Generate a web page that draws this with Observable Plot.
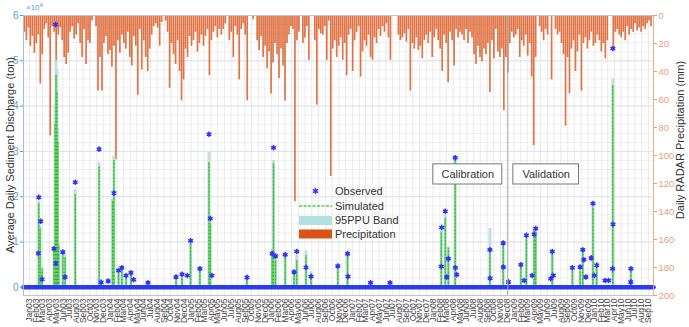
<!DOCTYPE html>
<html><head><meta charset="utf-8">
<script src="https://cdn.jsdelivr.net/npm/d3@7"></script>
<script src="https://cdn.jsdelivr.net/npm/@observablehq/plot@0.6"></script>
<style>
html,body{margin:0;padding:0;background:#fff;}
#chart{width:689px;height:327px;overflow:hidden;}
</style></head><body><div id="chart"></div>
<script>
// ---------------- data ----------------
const xDomain = ["2002-12-05", "2010-09-24"];
const monthTickStart = "2003-01-01";
const monthTickEnd = "2010-09-01";

const leftTicks = [0, 1, 2, 3, 4, 5, 6];            // ×10^4 ton
const rightTicksMm = [0, 20, 40, 60, 80, 100, 120, 140, 160, 180, 200];

const leftTitle = "Average Daily Sediment Discharge (ton)";
const rightTitle = "Daily RADAR Precipitation (mm)";
const legendLabels = ["Observed", "Simulated", "95PPU Band", "Precipitation"];

// precipitation (mm), one value every 9 days starting at precipStart
const precipStart = "2002-12-05";
const precipStepDays = 9;
const precipMm = [
  12, 18, 9, 22, 15, 27, 20, 14, 49, 28,
  10, 6, 16, 86, 8, 12, 65, 14, 9, 18,
  30, 35, 27, 12, 8, 17, 14, 6, 20, 30,
  10, 35, 18, 20, 4, 0, 8, 54, 30, 54,
  20, 15, 28, 25, 37, 22, 103, 18, 27, 14,
  20, 24, 12, 30, 36, 15, 22, 57, 10, 39,
  18, 30, 40, 24, 14, 8, 6, 9, 22, 5,
  0, 4, 12, 52, 20, 28, 35, 18, 40, 61,
  46, 24, 30, 15, 22, 18, 12, 26, 20, 14,
  22, 15, 10, 43, 18, 12, 8, 16, 10, 14,
  10, 6, 0, 18, 12, 30, 8, 14, 46, 10,
  6, 14, 61, 0, 0, 3, 0, 18, 25, 15,
  30, 22, 38, 26, 56, 34, 20, 28, 45, 24,
  36, 61, 20, 14, 8, 10, 133, 18, 12, 0,
  20, 16, 8, 32, 0, 0, 18, 64, 10, 13,
  14, 8, 32, 4, 115, 24, 18, 30, 22, 16,
  32, 20, 43, 14, 10, 40, 18, 12, 8, 44,
  26, 18, 22, 14, 30, 32, 16, 20, 10, 15,
  8, 12, 6, 16, 32, 0, 0, 0, 14, 18,
  16, 13, 19, 10, 54, 20, 24, 16, 25, 22,
  31, 18, 14, 20, 12, 30, 16, 10, 18, 24,
  40, 14, 20, 48, 12, 18, 36, 10, 16, 12,
  14, 18, 10, 20, 12, 16, 28, 35, 22, 30,
  33, 24, 28, 20, 55, 18, 31, 10, 26, 30,
  24, 68, 30, 41, 20, 12, 16, 14, 10, 30,
  18, 22, 14, 29, 20, 44, 93, 30, 0, 8,
  12, 18, 10, 14, 0, 46, 0, 10, 14, 12,
  20, 28, 79, 30, 56, 24, 18, 40, 26, 14,
  54, 20, 16, 24, 18, 12, 22, 20, 14, 18,
  26, 20, 31, 18, 0, 0, 23, 12, 10, 14,
  16, 12, 18, 8, 14, 10, 12, 6, 11, 9,
  12, 8, 10, 6, 4, 8
];

// observed sediment discharge (ton)
const obsDates = [
  "2003-02-12","2003-02-21","2003-02-10","2003-02-27","2003-04-22","2003-04-29","2003-04-30",
  "2003-06-01","2003-06-11","2003-07-27","2003-11-12","2003-11-21","2003-12-23","2004-01-18",
  "2004-02-08","2004-02-23","2004-03-13","2004-04-04","2004-04-16","2004-06-20","2004-10-25",
  "2004-11-21","2004-12-15","2004-12-30","2005-02-10","2005-03-23","2005-03-29","2005-04-05",
  "2005-09-11","2006-01-03","2006-01-09","2006-01-18","2006-03-03","2006-04-12","2006-04-24",
  "2006-06-05","2006-06-28","2006-10-27","2006-12-10","2006-12-12","2007-03-24","2007-06-20",
  "2008-02-07","2008-02-09","2008-02-25","2008-03-03","2008-03-10","2008-04-10","2008-04-11",
  "2008-04-17","2008-09-14","2008-09-15","2008-11-13","2008-11-14","2008-12-07","2009-02-01",
  "2009-02-16","2009-02-26","2009-03-24","2009-04-02","2009-04-09","2009-06-16","2009-06-23",
  "2009-06-28","2009-09-22","2009-10-27","2009-11-08","2009-11-13","2009-11-22","2009-12-16",
  "2009-12-24","2009-12-30","2010-01-10","2010-02-17","2010-03-05","2010-03-23","2010-03-24",
  "2010-03-25","2010-06-13","2010-06-14"
];
const obsTon = [
  19900, 14600, 7500, 1800, 8500, 58000, 5300,
  7800, 2300, 23200, 30500, 1100, 1400, 20800,
  3700, 4300, 2600, 3200, 1700, 1000, 2300,
  2900, 2600, 10300, 4100, 33800, 15200, 2600,
  2200, 7400, 30800, 6900, 7200, 3400, 7900,
  4400, 2400, 4700, 7400, 2400, 1000, 1000,
  4600, 13200, 16800, 2300, 6300, 28600, 4300,
  2800, 8300, 2000, 9800, 4500, 1200, 5000,
  1500, 11500, 2600, 11700, 13000, 1900, 7900,
  2600, 4300, 4500, 8300, 6100, 2300, 6500,
  18500, 2600, 4900, 1500, 1500, 4100, 52700,
  13900, 1200, 4100
];
// low observed flow forming the band along zero
const obsBaseDates = ["2002-12-05", "2010-09-24"];
const obsBaseTon = [0, 0];

// simulated sediment discharge (ton) and 95PPU upper bound
const simDates = [
  "2003-02-12","2003-02-18","2003-02-27","2003-04-22","2003-04-27","2003-05-01","2003-05-05",
  "2003-05-09","2003-05-13","2003-06-01","2003-06-11","2003-07-27","2003-11-12","2004-01-12",
  "2004-01-18","2004-02-08","2004-02-23","2004-03-13","2004-04-04","2004-10-25","2004-11-21",
  "2004-12-30","2005-02-10","2005-03-23","2005-03-29","2005-09-11","2006-01-03","2006-01-09",
  "2006-01-18","2006-03-03","2006-04-12","2006-04-24","2006-06-05","2006-06-28","2006-10-27",
  "2006-12-10","2008-02-07","2008-02-25","2008-03-10","2008-04-10","2008-09-14","2008-11-13",
  "2009-02-01","2009-02-26","2009-04-02","2009-04-09","2009-06-23","2009-09-22","2009-10-27",
  "2009-11-08","2009-12-24","2010-01-10","2010-03-24","2010-06-14"
];
const simTon = [
  18500, 13000, 4000, 8000, 36000, 46800, 43000,
  32000, 9000, 7000, 6500, 20500, 26500, 19000,
  28000, 3000, 3800, 2200, 3000, 1500, 2200,
  9500, 4000, 27500, 14000, 2000, 8000, 27200,
  6000, 7000, 3000, 6000, 7000, 3000, 4000,
  7500, 12200, 15200, 8600, 28000, 8500, 9500,
  4500, 11000, 12500, 12000, 7500, 3500, 3500,
  8000, 17500, 4500, 44500, 4000
];
const ppuUpperTon = [
  19000, 13500, 4500, 9000, 40000, 50000, 48000,
  35000, 10000, 7500, 7200, 21500, 27500, 19500,
  29000, 3500, 4200, 2500, 3500, 2000, 2800,
  10000, 4500, 29900, 15000, 2500, 8500, 28000,
  7000, 7500, 3500, 7000, 8000, 3500, 4500,
  8000, 13000, 16000, 9000, 29000, 13000, 10000,
  5000, 11500, 13000, 13000, 8000, 4000, 4000,
  8500, 18500, 5000, 46000, 4500
];

// calibration / validation split
const splitDate = "2008-12-04";
const periodLabels = ["Calibration", "Validation"];
const periodBoxStart = ["2008-01-02", "2008-12-29"];
const periodBoxEnd = ["2008-11-09", "2009-10-22"];
const periodBoxLowTon = 22700;
const periodBoxHighTon = 27150;

// ---------------- build ----------------
const FONT = "'Liberation Sans', Arial, Helvetica, sans-serif";
const parse = d3.utcParse("%Y-%m-%d");
const X0 = parse(xDomain[0]), X1 = parse(xDomain[1]);
const Y_MIN = -1800, Y_MAX = 60000, MM_MAX = 200;
const tonPerMm = (Y_MAX - Y_MIN) / MM_MAX;
const mmToY = mm => Y_MAX - mm * tonPerMm;

const months = d3.utcMonth.range(parse(monthTickStart), d3.utcDay.offset(parse(monthTickEnd), 1));
const precip = precipMm.map((mm, i) => ({date: d3.utcDay.offset(parse(precipStart), i * precipStepDays + 4), mm}));
const obs = obsDates.map((d, i) => ({date: parse(d), ton: obsTon[i]}));
const obsBase = obsBaseDates.map((d, i) => ({date: parse(d), ton: obsBaseTon[i]}));
const sim = simDates.map((d, i) => ({date: parse(d), ton: simTon[i], ppu: ppuUpperTon[i]}));
const boxes = periodLabels.map((l, i) => ({label: l, x1: parse(periodBoxStart[i]), x2: parse(periodBoxEnd[i])}));

const minorY = d3.range(0, Y_MAX + 1, 2000);
const majorY = leftTicks.map(t => t * 1e4);

const decor = (index, scales, values, dims) => {
  const {width, height, marginLeft: ml, marginTop: mt, marginBottom: mb} = dims;
  const g = d3.create("svg:g").attr("font-family", FONT);
  const cy = (mt + height - mb) / 2;
  g.append("text").attr("transform", `translate(10,${cy}) rotate(-90)`)
    .attr("text-anchor", "middle").attr("dy", "0.35em").attr("font-size", 11).attr("fill", "#333").text(leftTitle);
  g.append("text").attr("transform", `translate(${width - 9},${cy - 15}) rotate(-90)`)
    .attr("text-anchor", "middle").attr("dy", "0.35em").attr("font-size", 11).attr("fill", "#333").text(rightTitle);
  const t = g.append("text").attr("x", ml + 3).attr("y", mt - 5).attr("text-anchor", "start")
    .attr("font-size", 8).attr("fill", "#5b9bd5").text("×10");
  t.append("tspan").attr("dy", -3).attr("font-size", 6).text("4");
  // legend
  const lx = ml + 276, lw = 33, tx = ml + 312;
  const rows = [mt + 176, mt + 191, mt + 205.5, mt + 219];
  g.append("path").attr("d", d3.symbol(d3.symbolAsterisk, 26)()).attr("transform", `translate(${lx + lw / 2},${rows[0]})`)
    .attr("stroke", "#3333ff").attr("stroke-width", 1.5).attr("fill", "none");
  g.append("line").attr("x1", lx).attr("x2", lx + lw).attr("y1", rows[1]).attr("y2", rows[1])
    .attr("stroke", "#4fd34f").attr("stroke-width", 1.3).attr("stroke-dasharray", "3,1.5");
  g.append("rect").attr("x", lx).attr("y", rows[2] - 4.5).attr("width", lw).attr("height", 9).attr("fill", "#b3e0e0");
  g.append("rect").attr("x", lx).attr("y", rows[3] - 4.5).attr("width", lw).attr("height", 9).attr("fill", "#d95319");
  legendLabels.forEach((l, i) => {
    g.append("text").attr("x", tx).attr("y", rows[i]).attr("dy", "0.35em").attr("text-anchor", "start")
      .attr("font-size", 11).attr("fill", "#333").text(l);
  });
  return g.node();
};

const chart = Plot.plot({
  width: 689,
  height: 327,
  marginLeft: 23,
  marginRight: 36,
  marginTop: 15,
  marginBottom: 32,
  style: {fontFamily: FONT, background: "#fff"},
  x: {type: "utc", domain: [X0, X1]},
  y: {domain: [Y_MIN, Y_MAX]},
  marks: [
    Plot.ruleY(minorY, {stroke: "#f0f0f0", strokeWidth: 1}),
    Plot.ruleX(months, {stroke: "#e4e4e4", strokeWidth: 0.8}),
    Plot.ruleY(majorY, {stroke: "#dbe5ee", strokeWidth: 1}),
    Plot.ruleX(precip, {x: "date", y1: () => Y_MAX, y2: d => mmToY(d.mm), stroke: "#d95319", strokeOpacity: 0.8, strokeWidth: 1.7}),
    Plot.ruleX(sim, {x: "date", y1: () => 0, y2: "ppu", stroke: "#c4dede", strokeWidth: 3}),
    Plot.ruleX(sim, {x: "date", y1: () => 0, y2: "ton", stroke: "#5ed35e", strokeWidth: 1.6}),
    Plot.ruleX(sim, {x: "date", y1: () => 0, y2: "ton", stroke: "#2f9a2f", strokeWidth: 1, strokeDasharray: "1,2.5"}),
    Plot.line(obsBase, {x: "date", y: "ton", stroke: "#2a3cf2", strokeWidth: 4.5}),
    Plot.dot(obs, {x: "date", y: "ton", r: 1.8, fill: "#4a4aff"}),
    Plot.dot(obs, {x: "date", y: "ton", symbol: "asterisk", r: 2.6, stroke: "#3030ff", strokeWidth: 1.4}),
    Plot.ruleX([parse(splitDate)], {stroke: "#aaaaaa", strokeWidth: 1}),
    Plot.rect(boxes, {x1: "x1", x2: "x2", y1: () => periodBoxLowTon, y2: () => periodBoxHighTon, fill: "white", stroke: "#777", strokeWidth: 1}),
    Plot.text(boxes, {x: d => new Date((+d.x1 + +d.x2) / 2), y: () => (periodBoxLowTon + periodBoxHighTon) / 2, text: "label", fontSize: 11, fill: "#333"}),
    Plot.frame({stroke: "#c4c4c4"}),
    Plot.ruleX([X0], {stroke: "#9cc2e8"}),
    Plot.ruleX([X1], {stroke: "#f2ab86"}),
    Plot.axisX(months, {anchor: "bottom", tickFormat: d3.utcFormat("%b%y"), tickRotate: -90, tickSize: 0, tickPadding: 3, fontSize: 8.5, color: "#444", label: null}),
    Plot.axisY(majorY, {anchor: "left", tickFormat: d => d / 1e4, tickSize: 3, tickPadding: 2, fontSize: 10, color: "#5b9bd5", label: null}),
    Plot.axisY(rightTicksMm.map(mmToY), {anchor: "right", tickFormat: d => String(Math.round((Y_MAX - d) / tonPerMm)), tickSize: 3, tickPadding: 2, fontSize: 9.5, color: "#ef9c74", label: null}),
    decor
  ]
});
document.getElementById("chart").appendChild(chart);
</script>
</body></html>
